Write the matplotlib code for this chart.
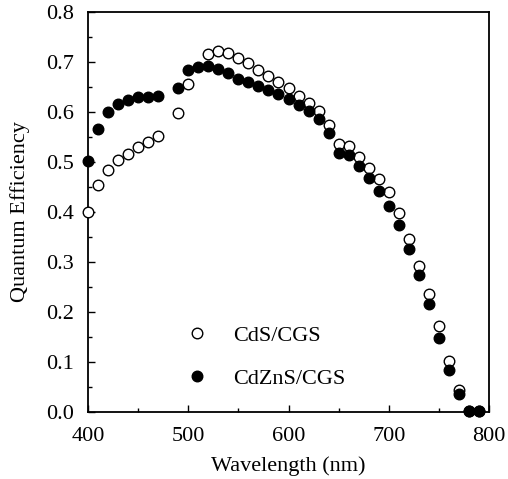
import matplotlib
matplotlib.use("Agg")
import matplotlib.pyplot as plt
from matplotlib.ticker import MultipleLocator

# CdS/CGS (open circles)
wl_cds = [400, 410, 420, 430, 440, 450, 460, 470, 490, 500, 520, 530, 540, 550,
          560, 570, 580, 590, 600, 610, 620, 630, 640, 650, 660, 670, 680, 690,
          700, 710, 720, 730, 740, 750, 760, 770, 780, 790]
qe_cds = [0.401, 0.454, 0.484, 0.504, 0.516, 0.531, 0.541, 0.553, 0.599, 0.656,
          0.716, 0.723, 0.719, 0.708, 0.698, 0.685, 0.672, 0.661, 0.649, 0.633,
          0.619, 0.602, 0.574, 0.536, 0.533, 0.511, 0.489, 0.467, 0.441, 0.399,
          0.347, 0.292, 0.236, 0.172, 0.102, 0.045, 0.003, 0.003]

# CdZnS/CGS (filled circles)
wl_czs = [400, 410, 420, 430, 440, 450, 460, 470, 490, 500, 510, 520, 530, 540,
          550, 560, 570, 580, 590, 600, 610, 620, 630, 640, 650, 660, 670, 680,
          690, 700, 710, 720, 730, 740, 750, 760, 770, 780, 790]
qe_czs = [0.503, 0.566, 0.601, 0.617, 0.625, 0.631, 0.631, 0.633, 0.649, 0.685,
          0.691, 0.693, 0.687, 0.679, 0.667, 0.661, 0.652, 0.644, 0.636, 0.626,
          0.614, 0.603, 0.587, 0.559, 0.519, 0.515, 0.492, 0.468, 0.443, 0.412,
          0.374, 0.327, 0.274, 0.217, 0.149, 0.084, 0.036, 0.003, 0.003]

plt.rcParams['font.family'] = 'serif'
plt.rcParams['font.serif'] = ['Liberation Serif', 'DejaVu Serif']
fig = plt.figure(figsize=(5.08, 4.79), dpi=100)
ax = fig.add_axes([88/508, 1-412/479, (489-88)/508, (412-12)/479])

ms = 7.6
ax.plot(wl_cds, qe_cds, 'o', ms=ms, mfc='white', mec='black', mew=1.0,
        label='CdS/CGS', clip_on=False, zorder=3)
ax.plot(wl_czs, qe_czs, 'o', ms=ms, mfc='black', mec='black', mew=1.0,
        label='CdZnS/CGS', clip_on=False, zorder=4)

ax.set_xlim(400, 800)
ax.set_ylim(0, 0.8)
ax.xaxis.set_major_locator(MultipleLocator(100))
ax.xaxis.set_minor_locator(MultipleLocator(50))
ax.yaxis.set_major_locator(MultipleLocator(0.1))
ax.yaxis.set_minor_locator(MultipleLocator(0.05))
ax.yaxis.set_major_formatter(plt.FuncFormatter(lambda v, p: f"{v:.1f}"))
ax.tick_params(which='both', direction='in', top=False, right=False,
               labelsize=16, width=1.0)
ax.tick_params(axis='x', which='major', pad=11)
ax.tick_params(axis='y', which='major', pad=10)
ax.tick_params(which='major', length=5)
ax.tick_params(which='minor', length=3)
for s in ax.spines.values():
    s.set_linewidth(1.3)

ax.set_xlabel('Wavelength (nm)', fontsize=16, labelpad=7)
ax.set_ylabel('Quantum Efficiency', fontsize=16, labelpad=12)

ax.legend(loc='lower left', bbox_to_anchor=(0.1675, 0.0075), frameon=False,
          fontsize=16, handletextpad=0.6, labelspacing=1.0, numpoints=1)

fig.savefig('out.png', dpi=100)
